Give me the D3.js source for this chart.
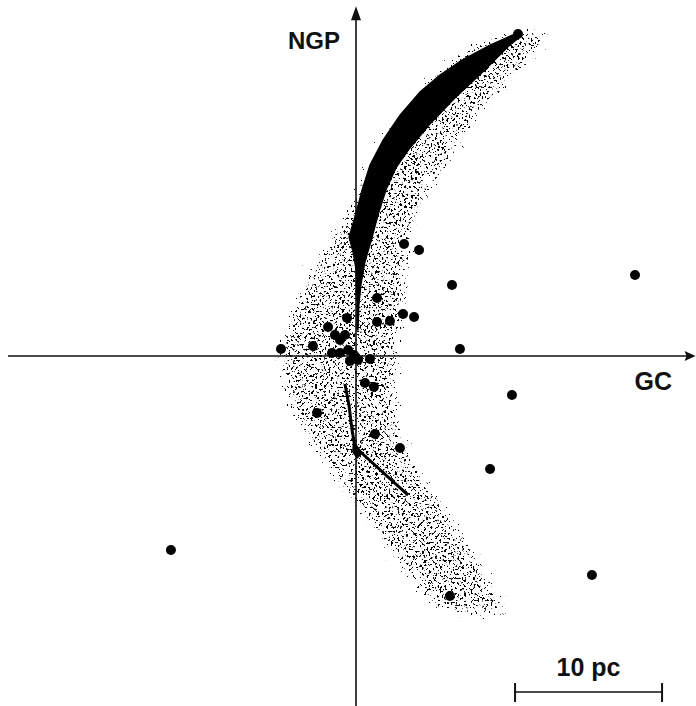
<!DOCTYPE html>
<meta charset="utf-8">
<html>
<script src="https://d3js.org/d3.v7.min.js"></script>
<style>
    body { margin: 0; background: #fff; }
    text { font-family: "Liberation Sans", Arial, sans-serif; font-weight: bold; fill: #111; }
</style>
<body>
<div id="chart"></div>
<script>

    // Stars, positions in pc (GC = x, NGP = y)
    var starX = [11.02, 3.27, 4.29, 18.98, 6.53, 1.43, 1.43, 2.31, 3.20, 3.95, -0.61, -1.90, -1.43, -0.75,
        -1.09, -2.93, -5.10, -1.63, -1.09, -0.54, -0.14, -0.41, 0.14, 0.95, 0.61, 1.22, -2.65, 10.61,
        1.29, 2.99, 9.12, -12.59, 16.05, 6.39, 7.07];
    var starY = [21.90, 7.62, 7.21, 5.51, 4.83, 3.95, 2.31, 2.38, 2.86, 2.65, 2.59, 1.97, 1.43, 1.43,
        1.09, 0.68, 0.48, 0.20, 0.20, 0.41, 0.07, -0.34, -0.27, -0.20, -1.84, -2.11, -3.88, -2.65,
        -5.31, -6.26, -7.69, -13.20, -14.90, -16.33, 0.48];

    // Black filled track (outline)
    var trackX = [10.95, 9.12, 7.21, 5.71, 4.35, 2.99, 1.84, 0.95, 0.41, 0.00, -0.48, -0.20, 0.00, 0.07, 0.07,
        0.14, 0.20, 0.34, 0.61, 1.09, 1.50, 2.04, 2.72, 3.67, 5.03, 6.73, 8.78, 10.48, 11.16];
    var trackY = [21.97, 21.16, 20.14, 19.12, 17.96, 16.39, 14.69, 12.99, 11.29, 9.73, 8.10, 7.07, 5.85, 3.81, 1.77,
        1.77, 3.47, 4.83, 6.39, 8.03, 9.59, 11.29, 12.79, 14.15, 15.78, 17.55, 19.46, 21.16, 21.70];

    // Lower track line
    var lineX = [-0.75, -0.48, -0.27, -0.07, 3.54];
    var lineY = [-1.90, -3.33, -5.03, -6.19, -9.46];
    var knotX = [-0.20, 0.48, 0.07, -0.27];
    var knotY = [-5.71, -6.60, -7.00, -6.53];

    // Stippled band (outline)
    var bandX = [12.93, 11.02, 9.32, 7.62, 5.92, 4.56, 3.20, 2.04, 0.95, 0.27, -0.61, -1.77, -3.13, -4.29, -5.03,
        -5.37, -5.17, -4.35, -2.99, -1.09, 1.09, 2.99, 4.83, 7.07, 10.14,
        10.61, 9.59, 8.23, 6.39, 4.56, 3.47, 2.99, 2.86, 2.99, 3.20, 3.54, 3.67, 3.88, 4.35, 5.17, 6.05, 7.41, 9.12, 10.82, 12.31, 13.33];
    var bandY = [22.18, 22.31, 21.97, 21.16, 19.80, 18.44, 16.87, 15.37, 13.67, 11.97, 10.27, 8.23, 6.19, 3.81, 1.77,
        0.07, -1.97, -4.01, -6.39, -9.12, -11.70, -14.42, -16.94, -17.82, -17.69,
        -17.14, -15.92, -13.40, -10.48, -7.96, -6.19, -4.01, -1.97, 0.07, 1.77, 4.15, 6.19, 7.89, 9.59, 11.16, 12.65, 14.69, 17.07, 18.91, 20.48, 21.29];

    // Axes and scale bar (pc)
    var axisXEnd = [-23.67, 23.1];
    var axisYEnd = [-24.1, 23.8];
    var barStart = 10.82, barLength = 10, barY = -22.86;
    var axisLabels = ["GC", "NGP", "10 pc"];

    var W = 696, H = 706;
    var PX = 14.7, ox = 356, oy = 356;

    var x = d3.scaleLinear().domain([-ox / PX, (W - ox) / PX]).range([0, W]);
    var y = d3.scaleLinear().domain([(oy - H) / PX, oy / PX]).range([H, 0]);

    var svg = d3.select("#chart").append("svg")
        .attr("width", W)
        .attr("height", H);

    var defs = svg.append("defs");

    // speckle texture for the band, thinning out toward its edges
    var f = defs.append("filter").attr("id", "stipple")
        .attr("filterUnits", "userSpaceOnUse")
        .attr("x", 0).attr("y", 0).attr("width", W).attr("height", H)
        .attr("color-interpolation-filters", "sRGB");
    f.append("feTurbulence")
        .attr("type", "fractalNoise")
        .attr("baseFrequency", 0.45)
        .attr("numOctaves", 2)
        .attr("seed", 7)
        .attr("result", "noise");
    f.append("feColorMatrix")
        .attr("in", "noise")
        .attr("type", "matrix")
        .attr("values", "0 0 0 0 0  0 0 0 0 0  0 0 0 0 0  1 0 0 0 0")
        .attr("result", "noiseA");
    f.append("feGaussianBlur")
        .attr("in", "SourceAlpha")
        .attr("stdDeviation", 7)
        .attr("result", "maskB");
    f.append("feComposite")
        .attr("in", "noiseA")
        .attr("in2", "maskB")
        .attr("operator", "arithmetic")
        .attr("k1", 0).attr("k2", 1).attr("k3", 0.3).attr("k4", -0.3)
        .attr("result", "sum");
    var ct = f.append("feComponentTransfer").attr("in", "sum").attr("result", "dots");
    ct.append("feFuncR").attr("type", "linear").attr("slope", 0).attr("intercept", 0);
    ct.append("feFuncG").attr("type", "linear").attr("slope", 0).attr("intercept", 0);
    ct.append("feFuncB").attr("type", "linear").attr("slope", 0).attr("intercept", 0);
    ct.append("feFuncA").attr("type", "linear").attr("slope", 25).attr("intercept", -14.6);
    var mt = f.append("feComponentTransfer").attr("in", "maskB").attr("result", "maskC");
    mt.append("feFuncA").attr("type", "linear").attr("slope", 3).attr("intercept", -0.15);
    f.append("feComposite")
        .attr("in", "dots")
        .attr("in2", "maskC")
        .attr("operator", "in");

    var poly = function (xs, ys) {
        return d3.line().x(function (d, i) { return x(xs[i]); }).y(function (d, i) { return y(ys[i]); })
            .curve(d3.curveLinearClosed)(xs);
    };

    // Band
    svg.append("path")
        .attr("d", poly(bandX, bandY))
        .attr("fill", "#000")
        .attr("filter", "url(#stipple)");

    // Axes
    svg.append("line")
        .attr("x1", x(axisXEnd[0])).attr("x2", x(axisXEnd[1]) - 6)
        .attr("y1", y(0)).attr("y2", y(0))
        .attr("stroke", "#111").attr("stroke-width", 1.6);
    svg.append("path")
        .attr("d", "M" + x(axisXEnd[1]) + "," + y(0) + "l-11,-5l2,5l-2,5z")
        .attr("fill", "#111");
    svg.append("line")
        .attr("x1", x(0)).attr("x2", x(0))
        .attr("y1", y(axisYEnd[0])).attr("y2", y(axisYEnd[1]) + 6)
        .attr("stroke", "#111").attr("stroke-width", 1.6);
    svg.append("path")
        .attr("d", "M" + x(0) + "," + y(axisYEnd[1]) + "l-5,14l10,0z")
        .attr("fill", "#111");

    // Black track
    svg.append("path")
        .attr("d", poly(trackX, trackY))
        .attr("fill", "#000")
        .attr("stroke", "#000")
        .attr("stroke-width", 1.2);

    svg.append("path")
        .attr("d", d3.line().x(function (d, i) { return x(lineX[i]); }).y(function (d, i) { return y(lineY[i]); })(lineX))
        .attr("fill", "none")
        .attr("stroke", "#000")
        .attr("stroke-width", 3)
        .attr("stroke-linejoin", "round");
    svg.append("path")
        .attr("d", poly(knotX, knotY))
        .attr("fill", "#000");

    // Stars
    svg.selectAll(".star")
        .data(starX)
        .enter()
        .append("circle")
        .attr("class", "star")
        .attr("cx", function (d) { return x(d); })
        .attr("cy", function (d, i) { return y(starY[i]); })
        .attr("r", 5)
        .attr("fill", "#000");

    // Labels
    svg.append("text")
        .attr("x", 672).attr("y", 390)
        .attr("text-anchor", "end")
        .style("font-size", "25px")
        .text(axisLabels[0]);
    svg.append("text")
        .attr("x", 340).attr("y", 49)
        .attr("text-anchor", "end")
        .style("font-size", "24px")
        .text(axisLabels[1]);

    // Scale bar
    var bx0 = x(barStart), bx1 = x(barStart + barLength), by = y(barY);
    svg.append("line")
        .attr("x1", bx0).attr("x2", bx1).attr("y1", by).attr("y2", by)
        .attr("stroke", "#111").attr("stroke-width", 1.6);
    [bx0, bx1].forEach(function (bx) {
        svg.append("line")
            .attr("x1", bx).attr("x2", bx).attr("y1", by - 9).attr("y2", by + 10)
            .attr("stroke", "#111").attr("stroke-width", 2);
    });
    svg.append("text")
        .attr("x", (bx0 + bx1) / 2).attr("y", 676)
        .attr("text-anchor", "middle")
        .style("font-size", "25px")
        .text(axisLabels[2]);

</script>
</body>
</html>
